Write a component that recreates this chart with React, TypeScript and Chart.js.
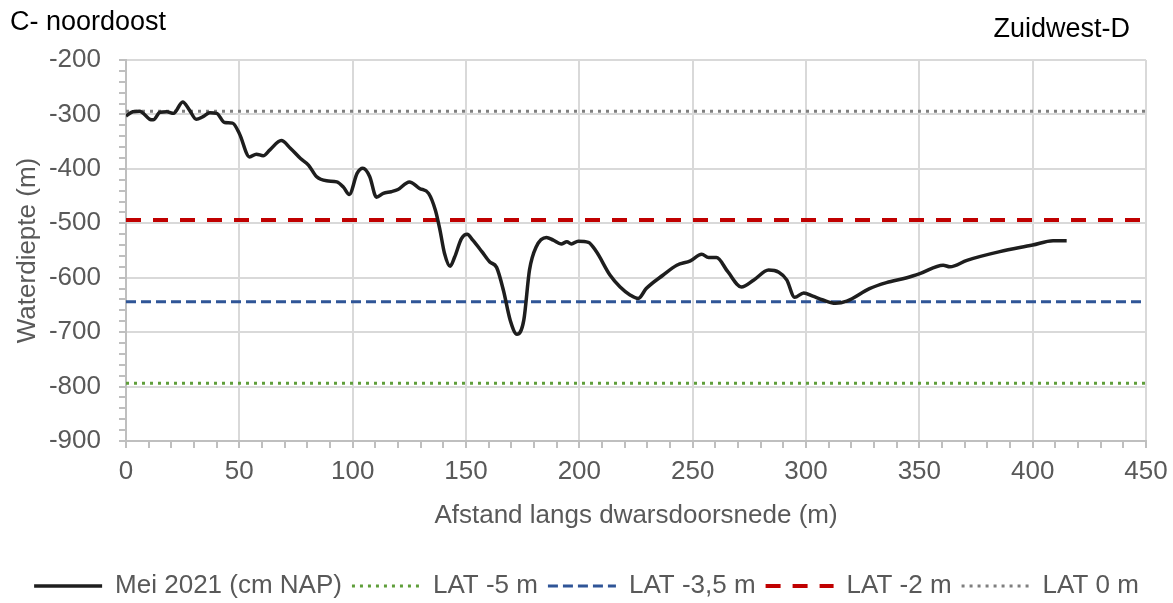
import { useEffect, useRef } from 'react';
import { Chart, registerables } from 'chart.js';

Chart.register(...registerables);

const FONT = '"Liberation Sans", Arial, sans-serif';

const leftLabel = 'C- noordoost';
const rightLabel = 'Zuidwest-D';
const xTitle = 'Afstand langs dwarsdoorsnede (m)';
const yTitle = 'Waterdiepte (m)';

const seriesName = 'Mei 2021 (cm NAP)';
const distances = [
  0, 3, 6, 10.5, 12, 15, 18, 21, 25, 28, 31, 34, 37, 40, 43.5, 47, 50, 54.5, 57.5, 60.5,
  63.5, 68.5, 72.5, 77, 80.5, 84, 88.5, 93, 96, 98.5, 102, 104.5, 107.5, 110.5, 113.5, 117, 120, 125, 129.5, 133.5,
  136.5, 138.5, 140.5, 143, 145, 148, 150.5, 153, 157, 160.5, 163.5, 166.5, 169.5, 172.5, 175.5, 178, 181, 185.5, 188.5, 192,
  194.5, 196.5, 199.5, 204, 207.5, 213.5, 218, 222.5, 226, 229.5, 237, 243, 249, 254, 257, 260.5, 265.5, 271.5, 277, 283.5,
  288, 291.5, 295, 299, 303, 307.5, 313, 318, 328, 335.5, 344.5, 350.5, 360.5, 363.5, 371, 385.5, 400, 409, 415,
];
const depths = [
  -303, -295, -294, -309, -310, -296, -295, -298, -277, -292, -309, -304, -297, -298, -315, -316, -335, -378, -373, -376,
  -365, -348, -362, -381, -393, -414, -422, -424, -434, -447, -408, -399, -414, -452, -445, -442, -438, -424, -436, -445,
  -476, -512, -555, -579, -562, -528, -520, -531, -552, -571, -581, -623, -678, -704, -678, -586, -543, -526, -531, -538,
  -534, -538, -533, -535, -552, -595, -617, -632, -638, -620, -595, -577, -569, -557, -563, -563, -589, -617, -604, -586,
  -590, -604, -636, -628, -634, -641, -647, -643, -620, -609, -600, -592, -577, -580, -568, -552, -540, -532, -532,
];

const levelNames = ['LAT -5 m', 'LAT -3,5 m', 'LAT -2 m', 'LAT 0 m'];
const levelValues = [-794, -644, -494, -294];
const levelColors = ['#5f9e3a', '#2f5597', '#c00000', '#7f7f7f'];
const levelDashes = [[3, 5], [10, 5], [15, 12], [3, 5]];
const levelWidths = [3, 3, 4, 3];

const xMin = 0;
const xMax = 450;
const xMajor = 50;
const xMinor = 10;
const yMin = -900;
const yMax = -200;
const yMajor = 100;
const yMinor = 20;

const cornerLabels = {
  id: 'cornerLabels',
  afterDraw(chart: any) {
    const ctx = chart.ctx;
    const area = chart.chartArea;
    ctx.save();
    ctx.font = `27px ${FONT}`;
    ctx.fillStyle = '#000000';
    ctx.textBaseline = 'alphabetic';
    ctx.textAlign = 'left';
    ctx.fillText(leftLabel, area.left - 116, area.top - 30);
    ctx.textAlign = 'right';
    ctx.fillText(rightLabel, area.right - 16, area.top - 23);
    ctx.restore();
  },
};

export default function App() {
  const ref = useRef<HTMLCanvasElement | null>(null);

  useEffect(() => {
    if (!ref.current) return;
    const mainData = distances.map((d, i) => ({ x: d, y: depths[i] }));
    const levelSets = levelNames.map((name, i) => ({
      label: name,
      data: [
        { x: xMin, y: levelValues[i] },
        { x: xMax, y: levelValues[i] },
      ],
      borderColor: levelColors[i],
      backgroundColor: levelColors[i],
      borderWidth: levelWidths[i],
      borderDash: levelDashes[i],
      pointRadius: 0,
      fill: false,
    }));

    const chart = new Chart(ref.current, {
      type: 'line',
      data: {
        datasets: [
          {
            label: seriesName,
            data: mainData,
            borderColor: '#1e1e1e',
            backgroundColor: '#1e1e1e',
            borderWidth: 3.5,
            borderDash: [],
            pointRadius: 0,
            cubicInterpolationMode: 'monotone',
            fill: false,
          },
          ...levelSets,
        ],
      },
      options: {
        animation: false,
        responsive: true,
        maintainAspectRatio: false,
        layout: { padding: { top: 60, left: 0, right: 0, bottom: -6 } },
        plugins: {
          tooltip: { enabled: false },
          legend: {
            position: 'bottom',
            labels: {
              usePointStyle: true,
              pointStyle: 'line',
              pointStyleWidth: 68,
              font: { family: FONT, size: 26 },
              color: '#595959',
              padding: 10,
              generateLabels: (c: any) => {
                const items = (Chart as any).defaults.plugins.legend.labels.generateLabels(c);
                return items.map((it: any) => {
                  const ds = c.data.datasets[it.datasetIndex];
                  return {
                    ...it,
                    pointStyle: 'line',
                    lineDash: ds.borderDash || [],
                    lineWidth: ds.borderWidth,
                    strokeStyle: ds.borderColor,
                    fillStyle: ds.borderColor,
                    fontColor: '#595959',
                  };
                });
              },
            },
          },
        },
        scales: {
          x: {
            type: 'linear',
            min: xMin,
            max: xMax,
            afterFit: (s: any) => {
              s.height = 122;
              s.paddingRight = 27;
            },
            ticks: {
              stepSize: xMinor,
              autoSkip: false,
              maxRotation: 0,
              minRotation: 0,
              padding: 8,
              color: '#595959',
              font: { family: FONT, size: 26 },
              callback: (v: any) => (Math.round(v) % xMajor === 0 ? String(Math.round(v)) : ''),
            },
            grid: {
              color: (c: any) => (c.tick && Math.round(c.tick.value) % xMajor === 0 ? '#d9d9d9' : 'rgba(0,0,0,0)'),
              lineWidth: 2,
              tickColor: '#bfbfbf',
              tickLength: 7,
              tickWidth: 2,
            },
            border: { color: '#bfbfbf', width: 2 },
            title: {
              display: true,
              text: xTitle,
              color: '#595959',
              font: { family: FONT, size: 26 },
              padding: { top: 4, bottom: 32 },
            },
          },
          y: {
            type: 'linear',
            min: yMin,
            max: yMax,
            afterFit: (s: any) => {
              s.width = 126;
            },
            ticks: {
              stepSize: yMinor,
              autoSkip: false,
              padding: 18,
              color: '#595959',
              font: { family: FONT, size: 26 },
              callback: (v: any) => (Math.round(v) % yMajor === 0 ? String(Math.round(v)) : ''),
            },
            grid: {
              color: (c: any) => (c.tick && Math.round(c.tick.value) % yMajor === 0 ? '#d9d9d9' : 'rgba(0,0,0,0)'),
              lineWidth: 2,
              tickColor: '#bfbfbf',
              tickLength: 7,
              tickWidth: 2,
            },
            border: { color: '#bfbfbf', width: 2 },
            title: {
              display: true,
              text: yTitle,
              color: '#595959',
              font: { family: FONT, size: 26 },
              padding: { top: 12, bottom: 5 },
            },
          },
        },
      },
      plugins: [cornerLabels],
    } as any);

    return () => chart.destroy();
  }, []);

  return (
    <div style={{ position: 'fixed', left: 0, top: 0, width: 1173, height: 603, background: '#ffffff' }}>
      <canvas ref={ref} />
    </div>
  );
}
